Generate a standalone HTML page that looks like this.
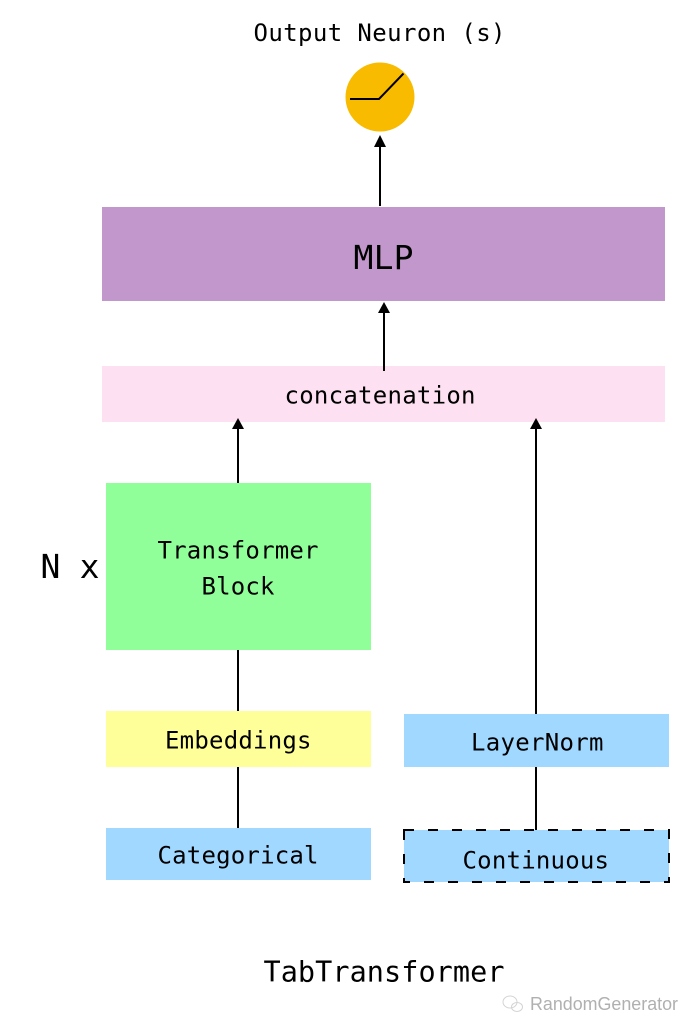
<!DOCTYPE html>
<html>
<head>
<meta charset="utf-8">
<style>
html,body{margin:0;padding:0;background:#fff;width:700px;height:1032px;overflow:hidden}
svg{display:block}
text{font-family:"DejaVu Sans Mono","Liberation Mono",monospace;fill:#000;text-anchor:start}
.s{font-size:24px}
</style>
</head>
<body>
<svg width="700" height="1032" viewBox="0 0 700 1032" xmlns="http://www.w3.org/2000/svg">
<rect width="700" height="1032" fill="#fff"/>
<text class="s" x="253.500" y="41" textLength="252" lengthAdjust="spacing">Output Neuron (s)</text>
<circle cx="380" cy="97" r="34.500" fill="#f8bb00"/>
<path d="M350 99H379L403.500 73.500" fill="none" stroke="#000" stroke-width="2"/>
<path d="M380 206V147" stroke="#000" stroke-width="2"/>
<path d="M380 135L386 147H374Z" fill="#000"/>
<rect x="102" y="207" width="563" height="94" fill="#c297cc"/>
<text x="353.500" y="269" font-size="33" textLength="60" lengthAdjust="spacing">MLP</text>
<rect x="102" y="366" width="563" height="56" fill="#fde0f1"/>
<path d="M384 371V313" stroke="#000" stroke-width="2"/>
<path d="M384 302L390 313H378Z" fill="#000"/>
<text class="s" x="284.500" y="403.500" textLength="191" lengthAdjust="spacing">concatenation</text>
<path d="M238 483V429" stroke="#000" stroke-width="2"/>
<path d="M238 418L244 429H232Z" fill="#000"/>
<path d="M536 714V429" stroke="#000" stroke-width="2"/>
<path d="M536 418L542 429H530Z" fill="#000"/>
<rect x="106" y="483" width="265" height="167" fill="#90ff99"/>
<text class="s" x="157.500" y="558.500" textLength="161" lengthAdjust="spacing">Transformer</text>
<text class="s" x="201.500" y="594.500" textLength="73" lengthAdjust="spacing">Block</text>
<text x="40.500" y="578" font-size="33" textLength="59" lengthAdjust="spacing">N x</text>
<path d="M238 650V711M238 767V828" stroke="#000" stroke-width="2"/>
<rect x="106" y="711" width="265" height="56" fill="#ffff99"/>
<text class="s" x="165" y="748.500" textLength="146.500" lengthAdjust="spacing">Embeddings</text>
<rect x="106" y="828" width="265" height="52" fill="#a1d8ff"/>
<text class="s" x="157.500" y="863.500" textLength="161" lengthAdjust="spacing">Categorical</text>
<rect x="404" y="714" width="265" height="53" fill="#a1d8ff"/>
<text class="s" x="471" y="750.500" textLength="132.500" lengthAdjust="spacing">LayerNorm</text>
<path d="M536 767V830" stroke="#000" stroke-width="2"/>
<rect x="404" y="830" width="265" height="52" fill="#a1d8ff" stroke="#000" stroke-width="2" stroke-dasharray="10 14"/>
<text class="s" x="462.500" y="868.500" textLength="146.500" lengthAdjust="spacing">Continuous</text>
<text x="263.500" y="981.500" font-size="28.500" textLength="241" lengthAdjust="spacing">TabTransformer</text>
<g fill="none" stroke="#d4d4d4" stroke-width="1">
<ellipse cx="510" cy="1002" rx="7" ry="6"/>
<ellipse cx="517" cy="1007" rx="5.500" ry="4.500"/>
</g>
<text x="530" y="1010" font-size="18" textLength="148" lengthAdjust="spacingAndGlyphs" style="font-family:'Liberation Sans',sans-serif;fill:#b0b0b0">RandomGenerator</text>
</svg>
</body>
</html>
